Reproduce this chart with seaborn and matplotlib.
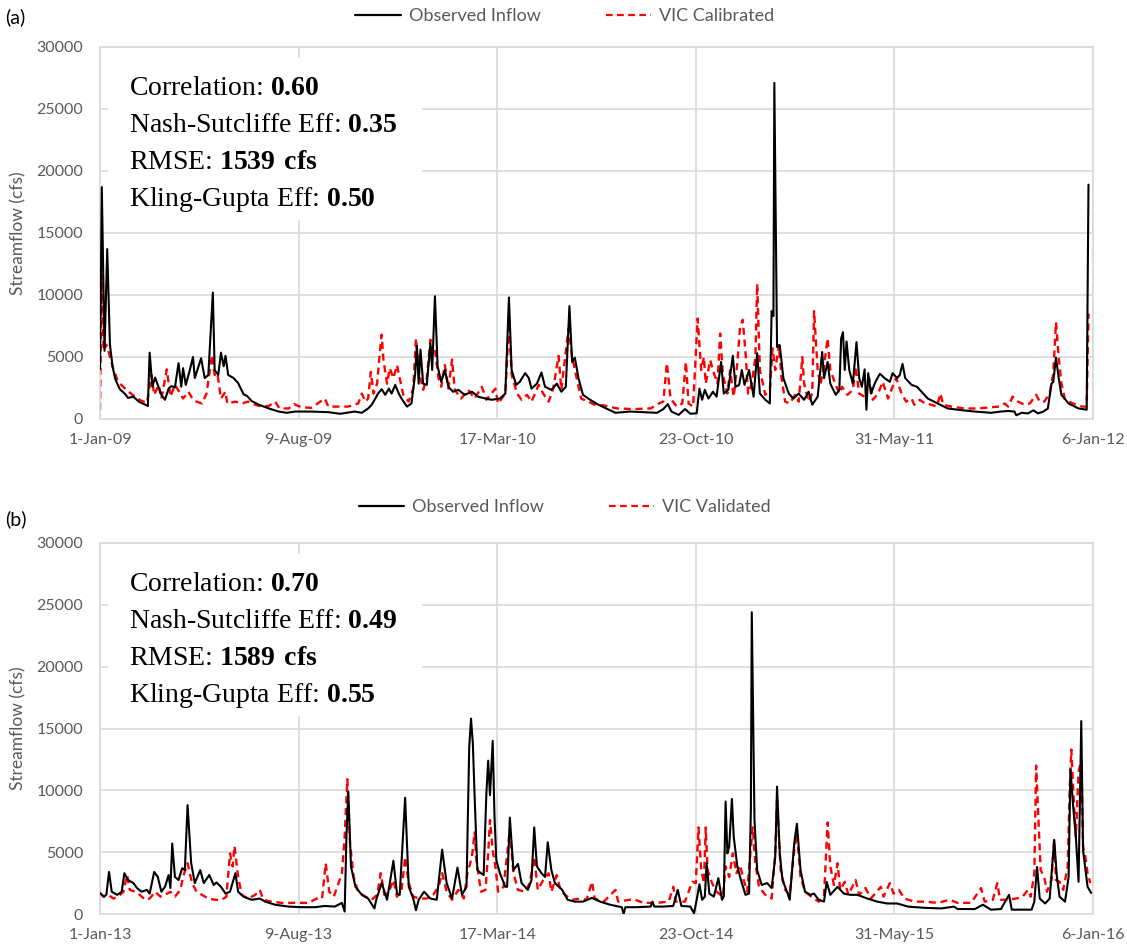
import numpy as np
import pandas as pd
import matplotlib
matplotlib.use("Agg")
import matplotlib.pyplot as plt
import seaborn as sns
from matplotlib.patches import Rectangle

# ---------------- data (day offset from panel start, streamflow cfs) ----------------
start_a = "2009-01-01"
start_b = "2013-01-01"
ticks_a = ["1-Jan-09", "9-Aug-09", "17-Mar-10", "23-Oct-10", "31-May-11", "6-Jan-12"]
ticks_b = ["1-Jan-13", "9-Aug-13", "17-Mar-14", "23-Oct-14", "31-May-15", "6-Jan-16"]
yticks = [0, 5000, 10000, 15000, 20000, 25000, 30000]

obs_a_day = [0, 2, 5, 8, 11, 14, 17, 22, 28, 31, 37, 43, 50, 53, 55, 58, 61, 64, 68, 72,
             76, 79, 83, 87, 90, 92, 95, 99, 103, 105, 112, 116, 120, 125, 127, 131, 134, 137, 139, 142,
             148, 153, 159, 163, 168, 176, 187, 198, 207, 216, 234, 253, 266, 282, 290, 297, 301, 305, 308, 312,
             316, 320, 323, 327, 331, 334, 340, 345, 349, 351, 353, 355, 358, 362, 366, 368, 371, 374, 378, 382,
             386, 391, 397, 404, 412, 419, 427, 434, 443, 449, 453, 456, 461, 465, 471, 475, 478, 484, 489, 493,
             500, 506, 511, 516, 520, 523, 526, 530, 535, 543, 552, 571, 587, 617, 624, 629, 633, 641, 648, 654,
             661, 664, 667, 670, 674, 679, 683, 688, 691, 696, 701, 704, 708, 711, 714, 719, 724, 728, 731, 737,
             742, 744, 746, 747, 750, 753, 757, 763, 768, 774, 780, 785, 789, 795, 800, 802, 806, 809, 815, 819,
             821, 823, 825, 827, 830, 834, 838, 841, 844, 847, 849, 851, 854, 859, 864, 869, 875, 878, 883, 886,
             889, 892, 899, 905, 912, 917, 928, 939, 950, 969, 987, 998, 1006, 1013, 1015, 1021, 1028, 1034, 1039, 1045,
             1050, 1054, 1056, 1059, 1062, 1065, 1073, 1084, 1093, 1095]
obs_a_val = [4000, 18700, 5500, 13700, 6000, 4200, 3200, 2400, 2000, 1700, 1800, 1400, 1150, 1050, 5350, 2600, 3350, 2750, 1950, 1550,
             2450, 2650, 2550, 4500, 2600, 4100, 2750, 3800, 5000, 3300, 4900, 3300, 3550, 10200, 3950, 3550, 5350, 4250, 5100, 3550,
             3300, 2900, 2000, 1850, 1450, 1150, 850, 600, 500, 600, 600, 550, 420, 600, 500, 850, 1150, 1650, 2050, 2400,
             1950, 2450, 2050, 2750, 2050, 1650, 1000, 1250, 3550, 5900, 2850, 5600, 2850, 2750, 6100, 3950, 9900, 4250, 3000, 3950,
             2600, 2200, 2350, 1950, 2200, 1800, 1650, 1550, 1650, 2050, 9800, 3950, 2750, 3000, 3700, 3300, 2450, 2850, 3750, 2600,
             2350, 2850, 2200, 2600, 9100, 4600, 4950, 3300, 1950, 1550, 1150, 500, 600, 500, 800, 1200, 600, 330, 800, 420,
             460, 2450, 1550, 2350, 1650, 2200, 1800, 4600, 2050, 2350, 5100, 2600, 2750, 3950, 2750, 3950, 1800, 5300, 2050, 1550,
             1250, 8700, 8300, 27100, 5800, 5950, 3300, 2050, 1650, 2050, 1550, 2200, 1150, 1800, 5400, 3300, 4600, 2850, 1950, 2350,
             6500, 7000, 3950, 6250, 3950, 2850, 6200, 3300, 2600, 4000, 750, 3700, 2050, 3000, 3650, 3300, 3000, 3700, 3300, 3550,
             4450, 3300, 2750, 2600, 2050, 1650, 1250, 850, 750, 600, 500, 600, 650, 600, 300, 500, 450, 700, 450, 600,
             850, 2850, 3000, 4950, 3300, 1950, 1250, 850, 750, 18900]

vic_a_day = [0, 2, 4, 7, 10, 14, 20, 30, 37, 45, 52, 57, 60, 65, 68, 74, 78, 83, 89, 92,
             98, 103, 107, 113, 118, 124, 127, 130, 134, 139, 141, 150, 157, 164, 172, 179, 187, 194, 199, 209,
             215, 223, 234, 249, 253, 264, 275, 286, 290, 294, 297, 300, 303, 307, 310, 312, 314, 318, 321, 325,
             329, 332, 336, 342, 347, 350, 353, 358, 362, 366, 368, 371, 375, 378, 382, 386, 390, 393, 400, 408,
             415, 423, 428, 438, 441, 449, 453, 456, 462, 467, 473, 478, 486, 491, 497, 502, 508, 511, 519, 523,
             528, 533, 541, 548, 558, 573, 591, 610, 619, 624, 628, 632, 639, 645, 649, 652, 657, 662, 666, 669,
             671, 676, 680, 684, 687, 690, 695, 698, 702, 706, 709, 712, 715, 718, 722, 726, 728, 731, 737, 742,
             745, 748, 752, 755, 759, 764, 770, 774, 778, 780, 785, 789, 791, 795, 798, 802, 806, 809, 815, 819,
             822, 828, 834, 837, 841, 847, 852, 856, 862, 867, 873, 878, 882, 888, 893, 899, 902, 908, 914, 921,
             927, 931, 934, 943, 958, 973, 987, 996, 1002, 1006, 1011, 1017, 1024, 1030, 1037, 1041, 1046, 1052, 1056, 1059,
             1062, 1065, 1069, 1078, 1088, 1093, 1095]
vic_a_val = [700, 11600, 5500, 6000, 5300, 4200, 3000, 2300, 1900, 1500, 1300, 3550, 1950, 2750, 1650, 4000, 1800, 2750, 2050, 1650,
             2200, 1550, 1400, 1250, 2050, 5150, 3550, 3700, 1650, 2200, 1250, 1400, 1250, 1400, 1150, 1000, 1050, 1400, 850, 850,
             1200, 950, 900, 1650, 1000, 1000, 1000, 1250, 2050, 1400, 1650, 3800, 2050, 2850, 5400, 6800, 4750, 2850, 4100, 3300,
             4350, 3300, 1950, 1400, 2450, 6500, 3950, 2350, 3300, 6400, 5300, 5600, 3300, 2600, 4350, 2450, 4800, 2350, 1650, 2350,
             1650, 2600, 1550, 2450, 1250, 2050, 7800, 3550, 2050, 1550, 1950, 1400, 2750, 2050, 1400, 2450, 5100, 2350, 7300, 5000,
             3300, 1650, 1400, 1150, 1100, 850, 800, 850, 1250, 1400, 4500, 1650, 1000, 1250, 4600, 1250, 1000, 8100, 3950, 5000,
             2850, 4750, 3700, 2850, 6900, 3550, 2050, 3950, 1800, 4500, 7400, 8000, 5400, 2050, 2850, 5000, 10900, 3950, 1950, 2350,
             5700, 3950, 5950, 3300, 1400, 1250, 1950, 1400, 5000, 2850, 1400, 2050, 8700, 3950, 2750, 4250, 6500, 3950, 2750, 2050,
             2600, 1950, 2350, 4250, 2050, 1800, 3300, 1550, 2050, 3000, 1650, 2600, 3300, 2050, 1400, 1650, 1150, 1550, 1250, 1150,
             1000, 2050, 1150, 1000, 850, 850, 950, 1000, 1250, 1000, 1800, 1400, 1150, 1250, 1950, 1400, 1400, 2050, 3700, 7800,
             5000, 2850, 1550, 1250, 1000, 1000, 8500]

obs_b_day = [0, 4, 7, 10, 13, 19, 24, 27, 31, 37, 41, 46, 52, 55, 60, 64, 68, 72, 76, 78,
             80, 83, 87, 91, 94, 97, 101, 105, 111, 115, 121, 126, 129, 134, 139, 144, 150, 153, 159, 168,
             177, 183, 194, 209, 223, 238, 249, 260, 268, 271, 273, 275, 278, 283, 290, 297, 304, 306, 312, 318,
             325, 329, 332, 338, 342, 347, 350, 353, 359, 366, 373, 379, 384, 390, 396, 401, 406, 409, 411, 413,
             415, 418, 422, 425, 428, 430, 432, 435, 437, 439, 443, 449, 451, 454, 458, 463, 467, 474, 478, 481,
             484, 489, 493, 496, 500, 504, 512, 518, 526, 535, 545, 554, 565, 578, 580, 582, 594, 610, 612, 614,
             624, 635, 640, 644, 654, 658, 661, 664, 667, 670, 672, 675, 680, 685, 689, 691, 693, 695, 697, 700,
             702, 706, 710, 715, 719, 721, 722, 725, 728, 733, 739, 744, 748, 750, 753, 756, 761, 764, 769, 772,
             776, 781, 787, 791, 796, 802, 805, 809, 817, 824, 831, 839, 850, 861, 872, 883, 895, 913, 932, 946,
             950, 969, 978, 987, 998, 1007, 1010, 1021, 1032, 1035, 1038, 1041, 1047, 1052, 1057, 1060, 1063, 1069, 1073, 1075,
             1078, 1081, 1084, 1087, 1089, 1094, 1098]
obs_b_val = [1700, 1400, 1550, 3400, 1800, 1550, 1800, 3300, 2750, 2500, 2100, 1800, 1950, 1650, 3400, 3000, 1800, 2200, 3150, 2100,
             5700, 3000, 2750, 3700, 3550, 8800, 4100, 2500, 3550, 2500, 3150, 2350, 2550, 2200, 1650, 1800, 3300, 1800, 1400, 1150,
             1250, 1000, 750, 600, 550, 550, 650, 600, 900, 200, 6250, 9900, 3850, 2200, 1550, 1250, 450, 1150, 2500, 1150,
             4300, 1650, 1550, 9400, 2200, 1250, 300, 1150, 1800, 1250, 1150, 5200, 2500, 1250, 3750, 1550, 2200, 13500, 15800, 13800,
             9500, 3550, 3300, 3150, 9750, 12400, 9600, 14000, 7900, 4350, 3300, 2200, 2200, 7800, 3550, 4050, 2500, 1950, 2750, 7000,
             3850, 3300, 3000, 5800, 3550, 2500, 1950, 1150, 1000, 1000, 1300, 1000, 750, 550, 0, 550, 550, 600, 1000, 600,
             600, 650, 1950, 650, 600, 50, 1150, 2400, 1150, 1400, 4100, 1650, 1400, 2900, 1150, 1400, 9100, 4900, 5450, 9300,
             6250, 3850, 2750, 1550, 1650, 8400, 24400, 7600, 3550, 2350, 2500, 2100, 4600, 10300, 4900, 2750, 1800, 1150, 5700, 7300,
             3550, 1800, 1550, 1650, 1150, 1000, 2600, 1550, 2200, 1650, 1550, 1550, 1250, 1000, 850, 850, 600, 500, 450, 600,
             400, 400, 750, 350, 400, 1550, 350, 350, 350, 1000, 3800, 1250, 850, 1250, 6000, 3000, 1400, 1000, 3000, 11700,
             8700, 6250, 2600, 15600, 5150, 2200, 1700]

vic_b_day = [0, 4, 9, 15, 20, 26, 30, 33, 39, 44, 50, 55, 61, 67, 72, 78, 83, 89, 92, 97,
             102, 107, 113, 120, 127, 135, 140, 144, 147, 149, 153, 157, 164, 172, 177, 181, 190, 201, 216, 231,
             240, 246, 250, 254, 259, 268, 271, 274, 277, 281, 286, 294, 301, 307, 311, 315, 320, 325, 329, 334,
             338, 342, 347, 355, 362, 369, 375, 379, 384, 390, 397, 403, 407, 412, 415, 417, 422, 427, 430, 432,
             435, 438, 441, 447, 454, 458, 463, 471, 476, 481, 485, 491, 497, 500, 506, 510, 515, 523, 532, 539,
             545, 548, 558, 571, 574, 591, 602, 617, 630, 635, 638, 648, 656, 660, 663, 666, 669, 671, 673, 678,
             683, 690, 693, 697, 701, 705, 709, 713, 717, 720, 723, 726, 730, 737, 744, 748, 750, 754, 759, 764,
             769, 772, 776, 781, 788, 796, 802, 806, 809, 813, 817, 820, 825, 829, 837, 841, 848, 854, 865, 868,
             875, 879, 885, 891, 902, 913, 928, 941, 950, 965, 976, 980, 989, 994, 997, 1005, 1015, 1022, 1028, 1031,
             1035, 1037, 1042, 1046, 1049, 1054, 1057, 1059, 1063, 1067, 1072, 1074, 1076, 1079, 1081, 1084, 1087, 1089, 1091, 1094,
             1097]
vic_b_val = [1700, 1400, 1550, 1250, 1400, 1800, 3150, 1950, 1800, 1550, 1150, 1250, 1800, 1400, 1550, 1800, 1400, 1950, 3000, 4100,
             2500, 1800, 1550, 1250, 1150, 1150, 1400, 4900, 3850, 5500, 3000, 1550, 1250, 1550, 1950, 1150, 1000, 900, 900, 900,
             1250, 1250, 4100, 1800, 1400, 3300, 6250, 10900, 5700, 3000, 1800, 1400, 1150, 1550, 3300, 1550, 1800, 2750, 1400, 1950,
             4600, 2500, 1400, 1250, 1250, 1550, 2200, 3300, 1800, 1150, 1950, 1250, 3300, 4600, 6600, 4350, 1800, 1950, 4900, 7600,
             5150, 3850, 1800, 2200, 6800, 3300, 1950, 1800, 2500, 4600, 1950, 2750, 3300, 1800, 3150, 1950, 1550, 1150, 1250, 1150,
             2600, 1250, 1000, 1950, 1000, 1200, 900, 900, 1000, 2200, 1000, 1000, 2600, 2500, 7000, 3550, 2500, 7000, 3550, 2500,
             1800, 1400, 3850, 3000, 4900, 3300, 3950, 2750, 1800, 4500, 7000, 4100, 2200, 1550, 1250, 4900, 9200, 3550, 1950, 1550,
             5150, 6500, 3000, 1800, 1400, 1000, 1400, 7400, 3850, 2350, 4100, 1950, 2600, 1550, 2750, 1550, 2100, 1250, 2200, 1400,
             2500, 1650, 1950, 1250, 1000, 1000, 900, 1150, 900, 900, 2100, 1000, 1150, 2500, 1150, 1150, 1250, 1400, 1950, 1400,
             3300, 12000, 3550, 3000, 1800, 2750, 6000, 2750, 2600, 1950, 3850, 9750, 13300, 8700, 6250, 11500, 12400, 5450, 4900, 3300,
             2500]

stats_a = [("Correlation:", "0.60"), ("Nash-Sutcliffe Eff:", "0.35"),
           ("RMSE:", "1539 cfs"), ("Kling-Gupta Eff:", "0.50")]
stats_b = [("Correlation:", "0.70"), ("Nash-Sutcliffe Eff:", "0.49"),
           ("RMSE:", "1589 cfs"), ("Kling-Gupta Eff:", "0.55")]

# ---------------- style ----------------
sns.set_theme(style="white")
plt.rcParams["font.family"] = ["Lato", "DejaVu Sans"]
plt.rcParams["mathtext.fontset"] = "custom"
plt.rcParams["mathtext.rm"] = "Liberation Serif"
plt.rcParams["mathtext.bf"] = "Liberation Serif:bold"

GRAY = "#595959"
GRID = "#d9d9d9"
W, H = 1127, 952

fig = plt.figure(figsize=(W / 100, H / 100), dpi=100)
fig.patch.set_facecolor("white")


def rect(l, t, r, b):
    return [l / W, 1 - b / H, (r - l) / W, (b - t) / H]


def panel(ax, start, obs_day, obs_val, vic_day, vic_val, vic_label, ticks, stats, top_px):
    t0 = pd.Timestamp(start)
    od = t0 + pd.to_timedelta(obs_day, unit="D")
    vd = t0 + pd.to_timedelta(vic_day, unit="D")
    sns.lineplot(x=od, y=obs_val, ax=ax, color="black", lw=1.5,
                 estimator=None, label="Observed Inflow", zorder=3)
    sns.lineplot(x=vd, y=vic_val, ax=ax, color="#ff0000", lw=1.7,
                 linestyle=(0, (3, 2)), estimator=None, label=vic_label, zorder=2.5)
    tick_dates = [t0 + pd.Timedelta(days=220 * k) for k in range(len(ticks))]
    ax.set_xlim(tick_dates[0], tick_dates[-1])
    ax.set_xticks(tick_dates)
    ax.set_xticklabels(ticks)
    ax.set_ylim(0, 30000)
    ax.set_yticks(yticks)
    ax.set_yticklabels([str(v) for v in yticks])
    ax.set_axisbelow(True)
    ax.grid(True, color=GRID, lw=1.2)
    for s in ax.spines.values():
        s.set_color(GRID)
        s.set_linewidth(1.2)
    ax.tick_params(axis="both", length=0, labelcolor=GRAY, labelsize=11.5)
    ax.tick_params(axis="x", pad=10)
    ax.tick_params(axis="y", pad=12)
    ax.set_xlabel("")
    ax.set_ylabel("Streamflow (cfs)", color=GRAY, fontsize=12.5)
    ax.yaxis.set_label_coords(-0.074, 0.5)
    # white box behind the statistics
    ax.add_patch(Rectangle((0.008, 0.535), 0.316, 0.435, transform=ax.transAxes,
                           facecolor="white", edgecolor="none", zorder=1))
    for i, (lab, val) in enumerate(stats):
        ax.text(0.029, 0.871 - i * 0.0995,
                lab + r" $\mathbf{" + val.replace(" ", r"\ ") + "}$",
                transform=ax.transAxes, family="Liberation Serif", fontsize=20,
                color="black", va="baseline", ha="left", zorder=4)
    leg = ax.legend(loc="center", bbox_to_anchor=(0.468, 1.0 + (top_px) / 372),
                    ncol=2, frameon=False, fontsize=13, handlelength=2.5,
                    columnspacing=3.6, handletextpad=0.45, labelcolor=GRAY)
    for line in leg.get_lines():
        line.set_linewidth(1.6)


ax_a = fig.add_axes(rect(100, 47, 1093, 419))
ax_b = fig.add_axes(rect(100, 543, 1093, 914))

panel(ax_a, start_a, obs_a_day, obs_a_val, vic_a_day, vic_a_val, "VIC Calibrated",
      ticks_a, stats_a, 31)
panel(ax_b, start_b, obs_b_day, obs_b_val, vic_b_day, vic_b_val, "VIC Validated",
      ticks_b, stats_b, 36)

fig.text(5 / W, 1 - 17 / H, "(a)", fontsize=14, color="black", va="center", ha="left")
fig.text(5 / W, 1 - 519 / H, "(b)", fontsize=14, color="black", va="center", ha="left")

fig.savefig("out.png", dpi=100, facecolor="white")
